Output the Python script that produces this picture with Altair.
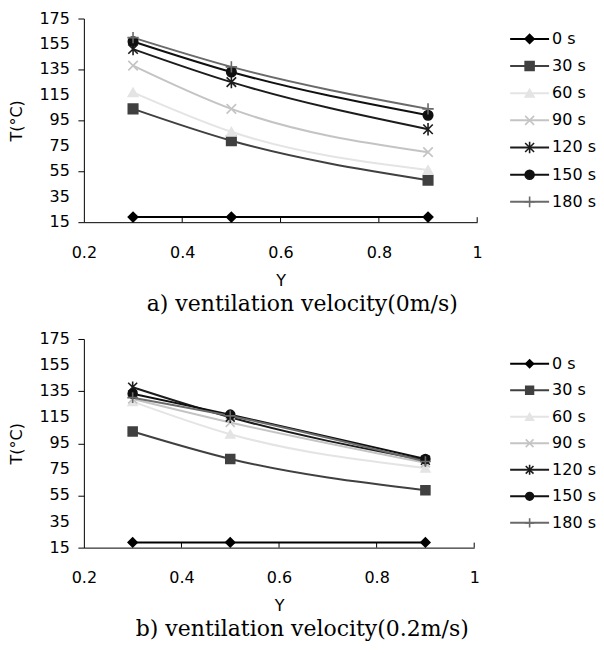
import altair as alt
import pandas as pd

x_pos = [0.3, 0.5, 0.9]
series = ["0 s", "30 s", "60 s", "90 s", "120 s", "150 s", "180 s"]
colors = ["#000000", "#404040", "#e4e4e4", "#c4c4c4", "#1c1c1c", "#101010", "#6a6a6a"]
shapes = [
    "diamond", "square", "triangle-up",
    "M-1,-1L1,1M-1,1L1,-1",
    "M-1,-1L1,1M-1,1L1,-1M0,-1.3L0,1.3",
    "circle",
    "M-1.2,0L1.2,0M0,-1.2L0,1.2",
]
a_vals = {
    "0 s": [19, 19, 19],
    "30 s": [104, 79, 48],
    "60 s": [117, 86, 56],
    "90 s": [138, 104, 70],
    "120 s": [151, 125, 88],
    "150 s": [157, 133, 99],
    "180 s": [160, 137, 104],
}
b_vals = {
    "0 s": [19, 19, 19],
    "30 s": [104, 83, 59],
    "60 s": [127, 102, 76],
    "90 s": [129, 111, 80],
    "120 s": [138, 115, 82],
    "150 s": [133, 117, 83],
    "180 s": [130, 116, 81],
}
x_ticks = [0.2, 0.4, 0.6, 0.8, 1.0]
inner_ticks = [0.4, 0.6, 0.8, 1.0]
y_ticks = [15, 35, 55, 75, 95, 115, 135, 155, 175]
captions = ["a) ventilation velocity(0m/s)", "b) ventilation velocity(0.2m/s)"]

FONT = "DejaVu Sans"
color_scale = alt.Scale(domain=series, range=colors)
shape_scale = alt.Scale(domain=series, range=shapes)


def frame(vals):
    rows = []
    for s in series:
        for x, v in zip(x_pos, vals[s]):
            rows.append({"series": s, "x": x, "T": v})
    return pd.DataFrame(rows)


def panel(vals, w, h, msize, lpad):
    df = frame(vals)
    xscale = alt.Scale(domain=[0.2, 1.0], nice=False, zero=False)
    yscale = alt.Scale(domain=[15, 175], nice=False, zero=False)
    xenc = alt.X("x:Q", scale=xscale,
                 axis=alt.Axis(values=x_ticks, format="~g", title="Y", ticks=False,
                               labelPadding=lpad, titlePadding=12, labelFontSize=16,
                               titleFontSize=16, titleFontWeight="normal", labelOverlap=False,
                               labelFlush=False,
                               labelFont=FONT, titleFont=FONT, domainColor="black",
                               labelColor="black", titleColor="black", grid=False))
    yenc = alt.Y("T:Q", scale=yscale,
                 axis=alt.Axis(values=y_ticks, title="T(°C)", tickSize=6, labels=False,
                               titlePadding=53, titleFontSize=16,
                               titleFontWeight="normal", titleFont=FONT,
                               domainColor="black", tickColor="black",
                               titleColor="black", grid=False))
    base = alt.Chart(df)
    lines = base.mark_line(interpolate="monotone", strokeWidth=2).encode(
        x=xenc, y=yenc,
        color=alt.Color("series:N", scale=color_scale, legend=None),
        detail="series:N",
        order="x:Q",
    )
    pts = base.mark_point(filled=True, size=msize, strokeWidth=1.6, opacity=1).encode(
        x=alt.X("x:Q", scale=xscale), y=alt.Y("T:Q", scale=yscale),
        color=alt.Color("series:N", scale=color_scale, legend=None),
        stroke=alt.Stroke("series:N", scale=color_scale, legend=None),
        shape=alt.Shape("series:N", scale=shape_scale, legend=None),
    )
    ticks = alt.Chart(pd.DataFrame({"x": inner_ticks})).mark_rule(color="black", strokeWidth=1).encode(
        x=alt.X("x:Q", scale=xscale), y=alt.value(h), y2=alt.value(h - 5)
    )
    ylabels = alt.Chart(pd.DataFrame({"v": y_ticks})).mark_text(
        align="right", baseline="middle", font=FONT, fontSize=16, color="black"
    ).encode(
        x=alt.value(-14), y=alt.Y("v:Q", scale=yscale), text=alt.Text("v:Q")
    )
    return alt.layer(lines, pts, ticks, ylabels).properties(width=w, height=h)


def legend(h, pad, msize):
    df = pd.DataFrame({"series": series})
    yenc = alt.Y("series:N", scale=alt.Scale(domain=series, type="point", padding=pad), axis=None)
    base = alt.Chart(df)
    ln = base.mark_rule(strokeWidth=2).encode(
        x=alt.value(0), x2=alt.value(39), y=yenc,
        color=alt.Color("series:N", scale=color_scale, legend=None),
    )
    pt = base.mark_point(filled=True, size=msize, strokeWidth=1.6, opacity=1).encode(
        x=alt.value(19.5), y=yenc,
        color=alt.Color("series:N", scale=color_scale, legend=None),
        stroke=alt.Stroke("series:N", scale=color_scale, legend=None),
        shape=alt.Shape("series:N", scale=shape_scale, legend=None),
    )
    tx = base.mark_text(align="left", baseline="middle", font=FONT, fontSize=16, color="black").encode(
        x=alt.value(42), y=yenc, text="series:N"
    )
    return alt.layer(ln, pt, tx).properties(width=84, height=h)


def row(vals, w, h, pad, gap, caption, msize, lsize, lpad, coff):
    return alt.hconcat(panel(vals, w, h, msize, lpad), legend(h, pad, lsize), spacing=gap).properties(
        title=alt.TitleParams(caption, orient="bottom", anchor="middle", font="DejaVu Serif",
                              fontSize=22, fontWeight="normal", color="black", offset=coff)
    ).resolve_scale(color="shared", shape="shared", stroke="shared")


chart = alt.vconcat(
    row(a_vals, 394, 204, 0.75, 26, captions[0], 90, 80, 22, 6),
    row(b_vals, 391, 209, 0.935, 29, captions[1], 80, 60, 22, 6),
    spacing=16,
).properties(
    padding={"top": 2, "left": 0, "right": 0, "bottom": 0},
    background="white",
).configure_view(stroke="transparent", strokeWidth=0)

chart.save("out.html", embed_options={"renderer": "svg", "actions": False})
